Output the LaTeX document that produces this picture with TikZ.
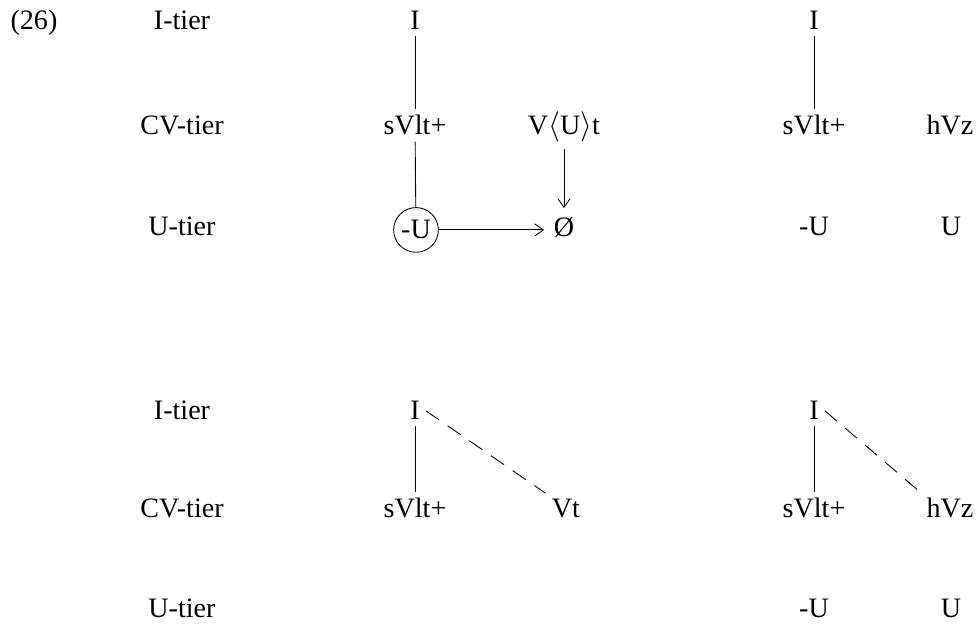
\documentclass[tikz,border=0pt]{standalone}
\usepackage{fontspec}
\setmainfont{Liberation Serif}
\usetikzlibrary{arrows.meta}

\begin{document}
\begin{tikzpicture}[x=0.02cm, y=-0.02cm,
  segment/.style={anchor=base, font=\fontsize{16}{19}\selectfont},
  circled/.style={segment, draw, circle, line width=0.5pt, inner sep=2pt},
  link/.style={line width=0.5pt},
  dashed-link/.style={line width=0.5pt, dash pattern=on 9pt off 6pt},
  arrow-link/.style={line width=0.5pt, shorten >=2pt, -{Straight Barb[length=5pt,width=7pt]}}]

\useasboundingbox (0,0) rectangle (977,624);

% LABELS

\node [segment] (ex-num) at (34,30) {(26)};

\node [segment] (i-tier-a) at (182,30) {I-tier};
\node [segment] (cv-tier-a) at (182,135) {CV-tier};
\node [segment] (u-tier-a) at (182,236) {U-tier};

\node [segment] (i-tier-b) at (182,420) {I-tier};
\node [segment] (cv-tier-b) at (182,518) {CV-tier};
\node [segment] (u-tier-b) at (182,617) {U-tier};

% TOP LEFT

\node [segment] (i-a) at (415,30) {I};
\node [segment] (svlt-a) at (415,135) {sVlt+};
\node [circled] (u-neg-a) at (416,239) {-U};
\node [segment] (vut-a) at (564,135) {V$\langle$U$\rangle$t};
\node [segment] (null-a) at (564,237) {\O};

\draw [link] (i-a) -- (svlt-a);
\draw [link] (svlt-a) -- (u-neg-a);
\draw [arrow-link] (vut-a) -- (null-a);
\draw [arrow-link] (u-neg-a) -- (u-neg-a -| null-a.west);

% TOP RIGHT

\node [segment] (i-b) at (814,30) {I};
\node [segment] (svlt-b) at (814,135) {sVlt+};
\node [segment] (hvz-b) at (950,135) {hVz};
\node [segment] (u-neg-b) at (814,236) {-U};
\node [segment] (u-b) at (951,236) {U};

\draw [link] (i-b) -- (svlt-b);

% BOTTOM LEFT

\node [segment] (i-c) at (415,420) {I};
\node [segment] (svlt-c) at (415,518) {sVlt+};
\node [segment] (vt-c) at (566,518) {Vt};

\draw [link] (i-c) -- (svlt-c);
\draw [dashed-link] (i-c.east) -- (vt-c.north west);

% BOTTOM RIGHT

\node [segment] (i-d) at (814,420) {I};
\node [segment] (svlt-d) at (814,518) {sVlt+};
\node [segment] (hvz-d) at (950,518) {hVz};
\node [segment] (u-neg-d) at (814,617) {-U};
\node [segment] (u-d) at (951,617) {U};

\draw [link] (i-d) -- (svlt-d);
\draw [dashed-link] (i-d.east) -- (hvz-d.north west);

\end{tikzpicture}
\end{document}
